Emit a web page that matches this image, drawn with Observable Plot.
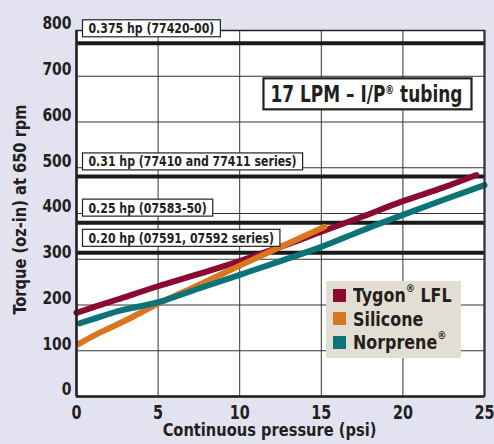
<!DOCTYPE html>
<html><head><meta charset="utf-8">
<script src="https://cdn.jsdelivr.net/npm/d3@7"></script>
<script src="https://cdn.jsdelivr.net/npm/@observablehq/plot@0.6"></script>
<style>
body{margin:0;background:#e2e2f0;}
#wrap{position:relative;width:494px;height:444px;background:#e2e2f0;overflow:hidden;
  font-family:"Liberation Sans Narrow","Arial Narrow","DejaVu Sans Condensed",sans-serif;font-stretch:condensed;}
#legend{position:absolute;left:326px;top:281px;width:135px;height:77px;background:#e3ded3;color:#231f20;}
#legend .item{position:absolute;left:7px;height:20px;display:flex;align-items:center;font-weight:bold;font-size:19px;white-space:nowrap;}
#legend .sw{width:13px;height:13px;margin-right:7px;flex:none;}
#legend .lab{display:inline-block;transform:scaleX(0.93);transform-origin:left center;}
#legend sup{font-size:11px;vertical-align:top;position:relative;top:-2px;}
</style></head><body><div id="wrap"></div>
<script>
const FONT = '"Liberation Sans Narrow","Arial Narrow","DejaVu Sans Condensed",sans-serif';

const series = ["Tygon® LFL", "Silicone", "Norprene®"];
const seriesColors = ["#8c0a32", "#d8771f", "#0c7377"];

const tygonX = [0, 2.5, 5, 7.5, 10, 12.5, 15, 17.5, 20, 22.5, 24.5];
const tygonY = [183, 212, 241, 268, 296, 327, 360, 393, 427, 457, 484];
const siliconeX = [0.15, 1, 2, 3, 5, 7.5, 10, 12.5, 15.2];
const siliconeY = [115, 132, 149, 166, 203, 244, 286, 327, 371];
const norpreneX = [0.2, 1, 2.5, 5, 7.5, 10, 12.5, 15, 17.5, 20, 22.5, 25];
const norpreneY = [160, 169, 186, 206, 236, 266, 296, 327, 363, 397, 430, 462];

const refValues = [772, 481, 380, 314];
const refLabels = ["0.375 hp (77420-00)", "0.31 hp (77410 and 77411 series)", "0.25 hp (07583-50)", "0.20 hp (07591, 07592 series)"];

const xTicks = [0, 5, 10, 15, 20, 25];
const yTicks = [0, 100, 200, 300, 400, 500, 600, 700, 800];

const chartTitle = "17 LPM – I/P® tubing";
const xTitle = "Continuous pressure (psi)";
const yTitle = "Torque (oz-in) at 650 rpm";

const rows = [
  ...tygonX.map((x, i) => ({series: series[0], x, y: tygonY[i]})),
  ...siliconeX.map((x, i) => ({series: series[1], x, y: siliconeY[i]})),
  ...norpreneX.map((x, i) => ({series: series[2], x, y: norpreneY[i]}))
];
const refs = refValues.map((v, i) => ({value: v, label: refLabels[i]}));

const chart = Plot.plot({
  width: 494, height: 444,
  marginLeft: 76, marginRight: 10, marginTop: 30, marginBottom: 48,
  style: {background: "transparent", fontFamily: FONT, color: "#231f20", overflow: "visible"},
  x: {domain: [0, 25]},
  y: {domain: [0, 800]},
  color: {domain: series, range: seriesColors},
  marks: [
    Plot.frame({fill: "white", stroke: null}),
    Plot.gridX(xTicks, {stroke: "#333", strokeOpacity: 1, strokeWidth: 1}),
    Plot.gridY(yTicks, {stroke: "#333", strokeOpacity: 1, strokeWidth: 1}),
    Plot.ruleY(refValues, {stroke: "#1a1a1a", strokeWidth: 4}),
    Plot.line(rows, {x: "x", y: "y", z: "series", stroke: "series", strokeWidth: 6, curve: "monotone-x", strokeLinecap: "round"}),
    Plot.frame({stroke: "#222", strokeWidth: 1.5}),
    Plot.ruleX([0], {stroke: "#222", strokeWidth: 2.5}),
    Plot.ruleX([25], {stroke: "#333", strokeWidth: 2}),
    Plot.ruleY([0], {stroke: "#222", strokeWidth: 2.5}),
    Plot.text(refs, {y: "value", text: "label", frameAnchor: "left", textAnchor: "start", dx: 12, dy: -14.5,
      fontSize: 14, fontWeight: "bold", fill: "#231f20"}),
    Plot.text([chartTitle], {text: d => d, frameAnchor: "top-right", textAnchor: "end", dx: -22, dy: 55,
      fontSize: 23, fontWeight: "bold", fill: "#231f20"}),
    Plot.text([xTitle], {text: d => d, frameAnchor: "bottom", textAnchor: "middle", dy: 39, dx: -11, fontSize: 17.5, fontWeight: "bold", fill: "#231f20"}),
    Plot.text([yTitle], {text: d => d, frameAnchor: "left", textAnchor: "middle", rotate: -90, dx: -56, dy: -4, fontSize: 17.5, fontWeight: "bold", fill: "#231f20"}),
    Plot.axisY(yTicks, {tickSize: 0, tickPadding: 5, dy: -7, fontSize: 18, fontWeight: "bold", fill: "#231f20", label: null}),
    Plot.axisX(xTicks, {tickSize: 0, tickPadding: 9, fontSize: 19, fontWeight: "bold", fill: "#231f20", label: null})
  ]
});

const wrap = document.getElementById("wrap");
wrap.appendChild(chart);
const svg = d3.select(chart);

const textGroups = svg.selectAll('g[aria-label="text"]').nodes();
const [refG, titleG, xTitleG, yTitleG] = textGroups;

// superscript ® in title
d3.select(titleG).selectAll("text").each(function() {
  const t = d3.select(this);
  const parts = t.text().split("®");
  t.text(null);
  t.append("tspan").text(parts[0]);
  t.append("tspan").attr("dy", -8).attr("font-size", 12).text("®");
  t.append("tspan").attr("dy", 8).text(parts[1]);
});

// condense glyphs to mimic a condensed typeface
function condense(nodes, f) {
  nodes.forEach(n => {
    const L = n.getComputedTextLength();
    n.setAttribute("textLength", (L * f).toFixed(2));
    n.setAttribute("lengthAdjust", "spacingAndGlyphs");
  });
}
condense(d3.select(refG).selectAll("text").nodes(), 0.87);
condense(d3.select(titleG).selectAll("text").nodes(), 0.82);
condense(d3.select(xTitleG).selectAll("text").nodes(), 0.93);
condense(d3.select(yTitleG).selectAll("text").nodes(), 0.93);
condense(svg.selectAll('g[aria-label="y-axis tick label"] text').nodes(), 0.86);
condense(svg.selectAll('g[aria-label="x-axis tick label"] text').nodes(), 0.84);

function boxes(group, padL, padR, h, sw) {
  d3.select(group).selectAll("text").each(function() {
    const b = this.getBBox();
    const cy = b.y + b.height / 2;
    d3.select(this.parentNode).insert("rect", () => this)
      .attr("x", b.x - padL).attr("y", cy - h / 2)
      .attr("width", b.width + padL + padR).attr("height", h)
      .attr("fill", "white").attr("stroke", "#222").attr("stroke-width", sw)
      .attr("transform", this.getAttribute("transform"));
  });
}
boxes(refG, 6, 6, 17, 1.2);
boxes(titleG, 7, 9, 31, 2.2);

// legend
const color = chart.scale("color");
const legend = d3.select(wrap).append("div").attr("id", "legend");
series.forEach((s, i) => {
  const item = legend.append("div").attr("class", "item").style("top", (4 + i * 23.5) + "px");
  item.append("div").attr("class", "sw").style("background", color.apply(s));
  item.append("span").attr("class", "lab").html(s.replace("®", "<sup>®</sup>"));
});
</script></body></html>
